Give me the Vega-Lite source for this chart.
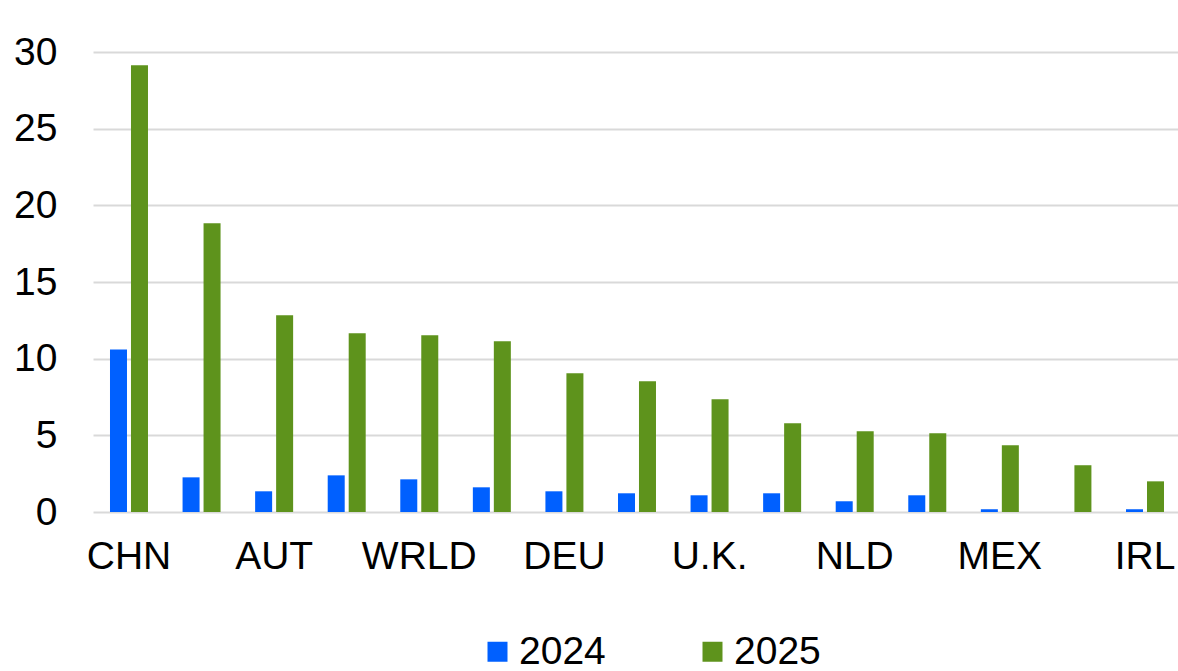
{
  "$schema": "https://vega.github.io/schema/vega-lite/v6.json",
  "width": 1085,
  "height": 460,
  "autosize": {"type": "none"},
  "padding": {"left": 93, "top": 52, "right": 0, "bottom": 159},
  "background": "white",
  "config": {
    "view": {"stroke": null},
    "font": "Liberation Sans",
    "axis": {"labelFont": "Liberation Sans", "labelColor": "#000000", "labelFontSize": 39}
  },
  "data": {
    "values": [
      {"country": "CHN", "year": "2024", "value": 10.6},
      {"country": "CHN", "year": "2025", "value": 29.14},
      {"country": "USA", "year": "2024", "value": 2.26},
      {"country": "USA", "year": "2025", "value": 18.83},
      {"country": "AUT", "year": "2024", "value": 1.35},
      {"country": "AUT", "year": "2025", "value": 12.83},
      {"country": "FRA", "year": "2024", "value": 2.39},
      {"country": "FRA", "year": "2025", "value": 11.65},
      {"country": "WRLD", "year": "2024", "value": 2.13},
      {"country": "WRLD", "year": "2025", "value": 11.52},
      {"country": "ITA", "year": "2024", "value": 1.61},
      {"country": "ITA", "year": "2025", "value": 11.13},
      {"country": "DEU", "year": "2024", "value": 1.35},
      {"country": "DEU", "year": "2025", "value": 9.05},
      {"country": "ESP", "year": "2024", "value": 1.22},
      {"country": "ESP", "year": "2025", "value": 8.52},
      {"country": "U.K.", "year": "2024", "value": 1.09},
      {"country": "U.K.", "year": "2025", "value": 7.35},
      {"country": "CAN", "year": "2024", "value": 1.22},
      {"country": "CAN", "year": "2025", "value": 5.78},
      {"country": "NLD", "year": "2024", "value": 0.7},
      {"country": "NLD", "year": "2025", "value": 5.26},
      {"country": "KOR", "year": "2024", "value": 1.09},
      {"country": "KOR", "year": "2025", "value": 5.13},
      {"country": "MEX", "year": "2024", "value": 0.18},
      {"country": "MEX", "year": "2025", "value": 4.35},
      {"country": "JPN", "year": "2024", "value": 0},
      {"country": "JPN", "year": "2025", "value": 3.05},
      {"country": "IRL", "year": "2024", "value": 0.18},
      {"country": "IRL", "year": "2025", "value": 2.0}
    ]
  },
  "mark": {"type": "bar"},
  "encoding": {
    "x": {
      "field": "country",
      "type": "nominal",
      "sort": null,
      "title": null,
      "scale": {"paddingInner": 0.4764, "paddingOuter": 0.2136, "align": 0.548},
      "axis": {
        "labelAngle": 0,
        "ticks": false,
        "domain": false,
        "grid": false,
        "labelPadding": 25,
        "labelExpr": "indexof(['CHN','AUT','WRLD','DEU','U.K.','NLD','MEX','IRL'], datum.value) >= 0 ? datum.label : ''"
      }
    },
    "xOffset": {
      "field": "year",
      "type": "nominal",
      "scale": {"paddingInner": 0.19, "paddingOuter": 0}
    },
    "y": {
      "field": "value",
      "type": "quantitative",
      "title": null,
      "scale": {"domain": [0, 30], "nice": false},
      "axis": {
        "values": [0, 5, 10, 15, 20, 25, 30],
        "ticks": false,
        "domain": false,
        "grid": true,
        "gridColor": "#D9D9D9",
        "gridWidth": 2,
        "labelPadding": 36
      }
    },
    "color": {
      "field": "year",
      "type": "nominal",
      "scale": {"domain": ["2024", "2025"], "range": ["#0060FF", "#5E931C"]},
      "legend": {
        "title": null,
        "orient": "none",
        "direction": "horizontal",
        "legendX": 385,
        "legendY": 580,
        "padding": 0,
        "symbolType": "square",
        "symbolSize": 400,
        "symbolStrokeWidth": 0,
        "labelFontSize": 39,
        "labelFont": "Liberation Sans",
        "labelColor": "#000000",
        "labelOffset": 2,
        "columnPadding": 87
      }
    }
  }
}
